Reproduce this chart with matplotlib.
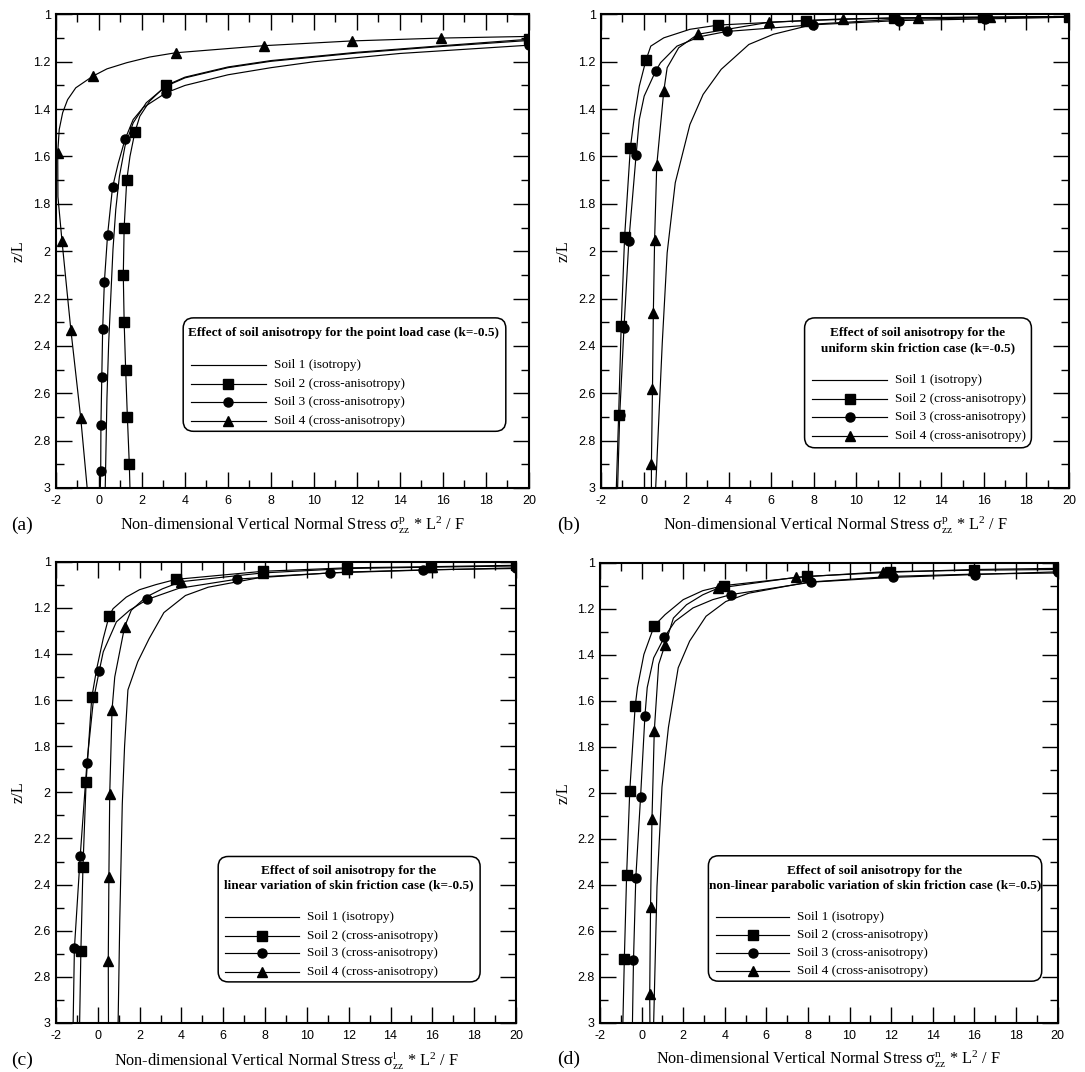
import matplotlib
matplotlib.use("Agg")
import matplotlib.pyplot as plt
from matplotlib.lines import Line2D
from matplotlib.patches import FancyBboxPatch
from matplotlib.ticker import MultipleLocator, FuncFormatter

plt.rcParams["axes.unicode_minus"] = False
plt.rcParams["mathtext.fontset"] = "custom"
plt.rcParams["mathtext.rm"] = "Liberation Serif"
plt.rcParams["mathtext.it"] = "Liberation Serif:italic"
plt.rcParams["mathtext.bf"] = "Liberation Serif:bold"

SERIF = "Liberation Serif"
SANS = "Liberation Sans"

soil_names = ["Soil 1 (isotropy)", "Soil 2 (cross-anisotropy)",
              "Soil 3 (cross-anisotropy)", "Soil 4 (cross-anisotropy)"]
soil_markers = [None, "s", "o", "^"]

# ---- (a) point load case: stress x against depth z/L ----
a1_z = [1.11, 1.135, 1.163, 1.198, 1.225, 1.268, 1.303, 1.373, 1.458, 1.556, 1.683, 1.824, 1.993, 2.19, 2.387, 2.62, 3.0]
a1_x = [20, 16, 12, 8, 6, 4, 3.12, 2.20, 1.59, 1.21, 0.95, 0.78, 0.65, 0.55, 0.45, 0.37, 0.29]
a2_z = [1.105, 1.132, 1.16, 1.195, 1.222, 1.265, 1.30, 1.366, 1.43, 1.497, 1.60, 1.70, 1.90, 2.10, 2.30, 2.50, 2.70, 2.90, 3.0]
a2_x = [20, 16, 12, 8, 6, 4, 3.12, 2.36, 1.9, 1.67, 1.44, 1.29, 1.17, 1.13, 1.17, 1.24, 1.32, 1.41, 1.44]
a3_z = [1.13, 1.165, 1.20, 1.225, 1.255, 1.30, 1.331, 1.394, 1.444, 1.528, 1.627, 1.73, 1.93, 2.13, 2.33, 2.532, 2.732, 2.93, 3.0]
a3_x = [20, 14, 10, 8, 6, 4, 3.12, 2.05, 1.59, 1.21, 0.9, 0.63, 0.40, 0.25, 0.17, 0.13, 0.09, 0.08, 0.06]
a4_z = [1.093, 1.100, 1.112, 1.132, 1.162, 1.18, 1.204, 1.23, 1.261, 1.31, 1.36, 1.415, 1.486, 1.585, 1.77, 1.958, 2.331, 2.704, 3.0]
a4_x = [20, 15.89, 11.77, 7.69, 3.57, 2.36, 1.29, 0.37, -0.29, -1.08, -1.46, -1.69, -1.85, -1.92, -1.91, -1.72, -1.31, -0.85, -0.55]
a_marks = [None, [0, 6, 9, 11, 12, 13, 14, 15, 16, 17], [0, 6, 9, 11, 12, 13, 14, 15, 16, 17], [1, 2, 3, 4, 8, 13, 15, 16, 17]]

# ---- (b) uniform skin friction case ----
b1_z = [1.01, 1.015, 1.02, 1.041, 1.084, 1.127, 1.232, 1.338, 1.465, 1.711, 2.007, 2.387, 3.0]
b1_x = [20, 16, 12, 8.04, 6.1, 4.95, 3.65, 2.8, 2.18, 1.49, 1.11, 0.88, 0.57]
b2_z = [1.009, 1.0116, 1.0145, 1.026, 1.045, 1.063, 1.099, 1.134, 1.194, 1.303, 1.43, 1.563, 1.939, 2.314, 2.69, 3.0]
b2_x = [20, 15.95, 11.75, 7.64, 3.52, 2.18, 0.95, 0.34, 0.11, -0.2, -0.43, -0.62, -0.89, -1.05, -1.17, -1.28]
b3_z = [1.012, 1.019, 1.026, 1.044, 1.072, 1.094, 1.134, 1.204, 1.239, 1.345, 1.444, 1.594, 1.955, 2.324, 2.69, 3.0]
b3_x = [20, 16.03, 12.0, 7.96, 3.92, 2.65, 1.57, 0.8, 0.57, 0.03, -0.2, -0.35, -0.69, -0.92, -1.12, -1.22]
b4_z = [1.009, 1.0116, 1.0145, 1.019, 1.033, 1.084, 1.141, 1.225, 1.324, 1.638, 1.951, 2.263, 2.58, 2.897, 3.0]
b4_x = [20, 16.27, 12.88, 9.36, 5.91, 2.55, 1.65, 1.11, 0.95, 0.62, 0.52, 0.46, 0.42, 0.37, 0.37]
b_marks = [None, [0, 1, 2, 3, 4, 8, 11, 12, 13, 14], [0, 1, 2, 3, 4, 8, 11, 12, 13, 14], [1, 2, 3, 4, 5, 8, 9, 10, 11, 12, 13]]

# ---- (c) linear variation of skin friction ----
c1_z = [1.03, 1.035, 1.045, 1.065, 1.111, 1.147, 1.221, 1.333, 1.434, 1.556, 1.80, 2.052, 2.555, 3.0]
c1_x = [20, 16, 12, 8, 5.28, 4.19, 3.16, 2.46, 1.91, 1.44, 1.28, 1.17, 1.05, 0.97]
c2_z = [1.016, 1.022, 1.027, 1.042, 1.077, 1.10, 1.122, 1.154, 1.204, 1.236, 1.333, 1.463, 1.589, 1.955, 2.322, 2.688, 3.0]
c2_x = [20, 15.93, 11.9, 7.9, 3.74, 2.77, 1.99, 1.36, 0.73, 0.54, 0.26, -0.05, -0.29, -0.56, -0.71, -0.81, -0.87]
c3_z = [1.027, 1.037, 1.049, 1.076, 1.116, 1.164, 1.211, 1.261, 1.391, 1.473, 1.60, 1.872, 2.274, 2.677, 3.0]
c3_x = [20, 15.55, 11.1, 6.67, 3.87, 2.37, 1.52, 0.89, 0.26, 0.07, -0.21, -0.52, -0.84, -1.12, -1.18]
c4_z = [1.019, 1.024, 1.03, 1.049, 1.087, 1.118, 1.154, 1.211, 1.283, 1.50, 1.642, 2.006, 2.365, 2.73, 3.0]
c4_x = [20, 15.96, 11.93, 7.9, 3.99, 3.09, 2.3, 1.6, 1.28, 0.81, 0.68, 0.57, 0.53, 0.5, 0.51]
c_marks = [None, [0, 1, 2, 3, 4, 9, 12, 13, 14, 15], [0, 1, 2, 3, 5, 9, 11, 12, 13], [1, 2, 3, 4, 8, 10, 11, 12, 13]]

# ---- (d) non-linear parabolic variation of skin friction ----
d1_z = [1.045, 1.05, 1.06, 1.085, 1.133, 1.169, 1.233, 1.341, 1.457, 1.60, 1.716, 1.975, 2.408, 3.0]
d1_x = [20, 16, 12, 8, 5.15, 4.05, 3.1, 2.31, 1.76, 1.5, 1.29, 0.98, 0.74, 0.58]
d2_z = [1.025, 1.030, 1.042, 1.06, 1.10, 1.122, 1.161, 1.226, 1.274, 1.399, 1.543, 1.625, 1.993, 2.357, 2.722, 3.0]
d2_x = [20, 15.97, 11.94, 7.93, 3.95, 2.94, 2.0, 1.13, 0.61, 0.11, -0.2, -0.31, -0.57, -0.72, -0.83, -0.9]
d3_z = [1.04, 1.052, 1.064, 1.085, 1.139, 1.161, 1.197, 1.255, 1.323, 1.414, 1.543, 1.666, 2.019, 2.372, 2.728, 3.0]
d3_x = [20, 16.02, 12.1, 8.17, 4.3, 3.42, 2.47, 1.61, 1.1, 0.58, 0.27, 0.16, -0.05, -0.28, -0.39, -0.44]
d4_z = [1.03, 1.033, 1.04, 1.064, 1.111, 1.14, 1.183, 1.241, 1.356, 1.442, 1.731, 2.112, 2.494, 2.876, 3.0]
d4_x = [20, 15.94, 11.61, 7.43, 3.68, 2.94, 2.16, 1.53, 1.13, 0.82, 0.61, 0.5, 0.43, 0.39, 0.4]
d_marks = [None, [0, 1, 2, 3, 4, 8, 11, 12, 13, 14], [0, 1, 2, 3, 4, 8, 11, 12, 13, 14], [1, 2, 3, 4, 8, 10, 11, 12, 13]]

x_ticks = [-2, 0, 2, 4, 6, 8, 10, 12, 14, 16, 18, 20]
z_ticks = [1, 1.2, 1.4, 1.6, 1.8, 2, 2.2, 2.4, 2.6, 2.8, 3]

panels = [
    dict(rect=[0.05161, 0.54478, 0.43594, 0.44179], tag="(a)", tag_xy=(22, 525),
         sup="p", series=[(a1_x, a1_z), (a2_x, a2_z), (a3_x, a3_z), (a4_x, a4_z)], marks=a_marks,
         title=["Effect of soil anisotropy for the point load case (k=-0.5)"],
         xlab_y=-0.0781, ylab_x=-0.0782,
         box=(0.2689, 0.1197, 0.9510, 0.3592), title_xc=0.6081, title_y=[0.3266],
         entry_y=[0.2597, 0.2200, 0.1816, 0.1415], line_x=(0.2848, 0.4446), text_x=0.4607),
    dict(rect=[0.55392, 0.54478, 0.43134, 0.44179], tag="(b)", tag_xy=(568.5, 525),
         sup="p", series=[(b1_x, b1_z), (b2_x, b2_z), (b3_x, b3_z), (b4_x, b4_z)], marks=b_marks,
         title=["Effect of soil anisotropy for the", "uniform skin friction case (k=-0.5)"],
         xlab_y=-0.0781, ylab_x=-0.079,
         box=(0.4350, 0.0849, 0.9197, 0.3592), title_xc=0.6769, title_y=[0.3282, 0.2940],
         entry_y=[0.2287, 0.1888, 0.1489, 0.1090], line_x=(0.4513, 0.6113), text_x=0.6282),
    dict(rect=[0.05161, 0.04571, 0.42396, 0.43041], tag="(c)", tag_xy=(22, 1060),
         sup="l", series=[(c1_x, c1_z), (c2_x, c2_z), (c3_x, c3_z), (c4_x, c4_z)], marks=c_marks,
         title=["Effect of soil anisotropy for the", "linear variation of skin friction case (k=-0.5)"],
         xlab_y=-0.0802, ylab_x=-0.0807,
         box=(0.3526, 0.0891, 0.9220, 0.3609), title_xc=0.6370, title_y=[0.3296, 0.2976],
         entry_y=[0.2306, 0.1896, 0.1508, 0.1114], line_x=(0.3676, 0.5283), text_x=0.5446),
    dict(rect=[0.55300, 0.04571, 0.42166, 0.42948], tag="(d)", tag_xy=(569, 1059),
         sup="n", series=[(d1_x, d1_z), (d2_x, d2_z), (d3_x, d3_z), (d4_x, d4_z)], marks=d_marks,
         title=["Effect of soil anisotropy for the",
                "non-linear parabolic variation of skin friction case (k=-0.5)"],
         xlab_y=-0.0782, ylab_x=-0.0787,
         box=(0.2369, 0.0908, 0.9655, 0.3632), title_xc=0.6004, title_y=[0.3304, 0.2982],
         entry_y=[0.2311, 0.1916, 0.1527, 0.1132], line_x=(0.2536, 0.4133), text_x=0.4299),
]

LW = 0.85
MS = {"s": 6.5, "o": 6.5, "^": 7.0}

fig = plt.figure(figsize=(10.85, 10.72), dpi=100)
W, H = 1085.0, 1072.0

for p in panels:
    ax = fig.add_axes(p["rect"])
    for (xs, zs), mk, every in zip(p["series"], soil_markers, p["marks"]):
        ax.plot(xs, zs, color="black", lw=LW, marker=mk,
                ms=MS.get(mk, 0), markevery=every, mfc="black", mec="black",
                clip_on=True)

    ax.set_xlim(-2, 20)
    ax.set_ylim(3, 1)
    ax.set_xticks(x_ticks)
    ax.set_yticks(z_ticks)
    ax.xaxis.set_minor_locator(MultipleLocator(1))
    ax.yaxis.set_minor_locator(MultipleLocator(0.1))
    fmt = FuncFormatter(lambda v, pos: "%g" % v)
    ax.xaxis.set_major_formatter(fmt)
    ax.yaxis.set_major_formatter(fmt)
    ax.tick_params(which="both", direction="in", top=True, right=True, width=1.0)
    ax.tick_params(which="major", length=11.3)
    ax.tick_params(which="minor", length=5.8)
    ax.tick_params(axis="x", which="major", pad=5.0)
    ax.tick_params(axis="y", which="major", pad=3.8)
    for lab in ax.get_xticklabels() + ax.get_yticklabels():
        lab.set_fontfamily(SANS)
        lab.set_fontsize(9)
    for sp in ax.spines.values():
        sp.set_linewidth(1.5)

    ax.set_xlabel("Non-dimensional Vertical Normal Stress "
                  r"$\mathrm{\sigma}^{\mathrm{%s}}_{\mathrm{zz}}$ * L$^{\mathrm{2}}$ / F" % p["sup"],
                  fontfamily=SERIF, fontsize=11.7)
    ax.xaxis.set_label_coords(0.5, p["xlab_y"])
    ax.xaxis.label.set_va("center")
    ax.set_ylabel("z/L", fontfamily=SERIF, fontsize=11.7)
    ax.yaxis.set_label_coords(p["ylab_x"], 0.5)
    ax.yaxis.label.set_va("center")

    # legend frame, title and entries
    x0, y0, x1, y1 = p["box"]
    ax.add_patch(FancyBboxPatch((x0, y0), x1 - x0, y1 - y0,
                                boxstyle="round,pad=0,rounding_size=0.022",
                                transform=ax.transAxes, fc="white", ec="black",
                                lw=1.1, zorder=5, clip_on=False))
    for line, ty in zip(p["title"], p["title_y"]):
        ax.text(p["title_xc"], ty, line, transform=ax.transAxes, ha="center", va="center",
                fontfamily=SERIF, fontweight="bold", fontsize=9.5, zorder=6)
    lx0, lx1 = p["line_x"]
    for name, mk, ey in zip(soil_names, soil_markers, p["entry_y"]):
        ax.add_line(Line2D([lx0, lx1], [ey, ey], transform=ax.transAxes,
                           color="black", lw=LW, zorder=6))
        if mk is not None:
            ax.add_line(Line2D([(lx0 + lx1) / 2], [ey], transform=ax.transAxes,
                               marker=mk, ms=MS[mk], color="black", lw=0, zorder=7))
        ax.text(p["text_x"], ey, name, transform=ax.transAxes, ha="left", va="center",
                fontfamily=SERIF, fontsize=9.5, zorder=6)

    tx, ty = p["tag_xy"]
    fig.text(tx / W, 1 - ty / H, p["tag"], ha="center", va="center",
             fontfamily=SERIF, fontsize=14)

fig.savefig("out.png", dpi=100)
